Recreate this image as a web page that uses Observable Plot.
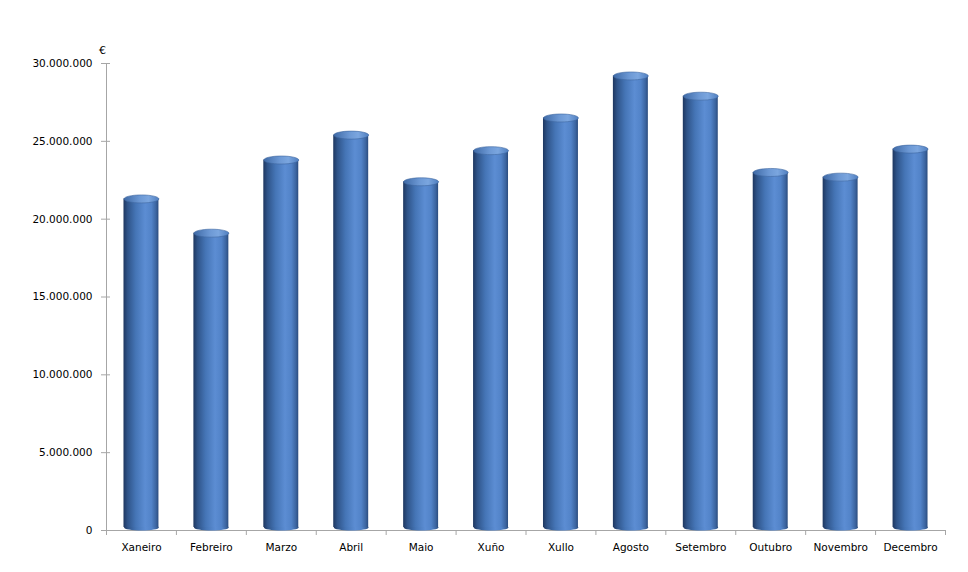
<!DOCTYPE html>
<html><head><meta charset="utf-8">
<script src="https://cdn.jsdelivr.net/npm/d3@7"></script>
<script src="https://cdn.jsdelivr.net/npm/@observablehq/plot@0.6"></script>
<style>body{margin:0;background:#fff} svg{display:block}</style>
</head><body><div id="chart"></div>
<script>
const months = ["Xaneiro","Febreiro","Marzo","Abril","Maio","Xuño","Xullo","Agosto","Setembro","Outubro","Novembro","Decembro"];
const values = [21300000, 19100000, 23800000, 25400000, 22400000, 24400000, 26500000, 29200000, 27900000, 23000000, 22700000, 24500000];
const yTicks = [0, 5000000, 10000000, 15000000, 20000000, 25000000, 30000000];
const yUnit = "€";

const W = 968, H = 572, mL = 106, mR = 23, mT = 63, mB = 42;
const pad = 0.5;
const step = (W - mL - mR) / months.length;
const bw = step * (1 - pad);
const rxTop = bw / 2, ryTop = 4, ryBot = 3;

function ellipse(rx, ry) {
  const k = 0.5523;
  return {draw(ctx) {
    ctx.moveTo(-rx, 0);
    ctx.bezierCurveTo(-rx, -ry * k, -rx * k, -ry, 0, -ry);
    ctx.bezierCurveTo(rx * k, -ry, rx, -ry * k, rx, 0);
    ctx.bezierCurveTo(rx, ry * k, rx * k, ry, 0, ry);
    ctx.bezierCurveTo(-rx * k, ry, -rx, ry * k, -rx, 0);
    ctx.closePath();
  }};
}

const data = months.map((m, i) => ({month: m, value: values[i]}));
const locale = d3.formatLocale({decimal: ",", thousands: ".", grouping: [3], currency: ["", "€"]});
const fmt = locale.format(",d");
const axisGray = "#a6a6a6";

const plot = Plot.plot({
  width: W, height: H,
  marginLeft: mL, marginRight: mR, marginTop: mT, marginBottom: mB,
  style: {fontFamily: "DejaVu Sans", fontSize: "10.5px", color: "#000", background: "#fff"},
  x: {domain: months, paddingInner: pad, paddingOuter: pad / 2, round: false, label: null},
  y: {domain: [0, 30000000], label: null},
  marks: [
    Plot.ruleX([months[0]], {dx: -step / 2, stroke: axisGray}),
    Plot.ruleY([0], {stroke: axisGray}),
    Plot.axisY({ticks: yTicks, tickFormat: fmt, tickSize: 9, dx: 4, tickPadding: 9, stroke: axisGray, fill: "#000", label: null}),
    Plot.axisX({tickSize: 0, tickPadding: 13, fill: "#000", label: null}),
    Plot.axisX({tickSize: 5, tickFormat: () => "", dx: -step / 2, stroke: axisGray, label: null}),
    Plot.axisX({ticks: [months[months.length - 1]], tickSize: 5, tickFormat: () => "", dx: step / 2, stroke: axisGray, label: null}),
    Plot.dot(data, {x: "month", y: () => 0, dy: -ryBot, symbol: ellipse(rxTop, ryBot), fill: "url(#cylBody)", stroke: "none"}),
    Plot.barY(data, {x: "month", y: "value", fill: "url(#cylBody)", insetBottom: ryBot}),
    Plot.dot(data, {x: "month", y: "value", symbol: ellipse(rxTop, ryTop), fill: "url(#cylTop)", stroke: "#3e679f", strokeWidth: 0.6}),
    Plot.text([yUnit], {frameAnchor: "top-left", text: d => d, dx: -4, dy: -17, textAnchor: "middle", fontSize: 11, fill: "#000"})
  ]
});

const svg = plot.tagName.toLowerCase() === "svg" ? plot : plot.querySelector("svg");
const defs = d3.select(svg).insert("defs", ":first-child");
const bodyGrad = defs.append("linearGradient").attr("id", "cylBody").attr("x1", "0").attr("x2", "1").attr("y1", "0").attr("y2", "0");
[[0, "#1e3760"], [0.12, "#2f5489"], [0.35, "#4575b6"], [0.62, "#5c8dd3"], [0.8, "#5283c8"], [0.93, "#3c65a0"], [1, "#2b4c7e"]]
  .forEach(([o, c]) => bodyGrad.append("stop").attr("offset", o).attr("stop-color", c));
const topGrad = defs.append("linearGradient").attr("id", "cylTop").attr("x1", "0").attr("x2", "1").attr("y1", "0").attr("y2", "0");
[[0, "#3f6aa6"], [0.45, "#6c98d4"], [0.7, "#7ba6df"], [1, "#4f7ebf"]]
  .forEach(([o, c]) => topGrad.append("stop").attr("offset", o).attr("stop-color", c));

document.getElementById("chart").appendChild(plot);
</script>
</body></html>
